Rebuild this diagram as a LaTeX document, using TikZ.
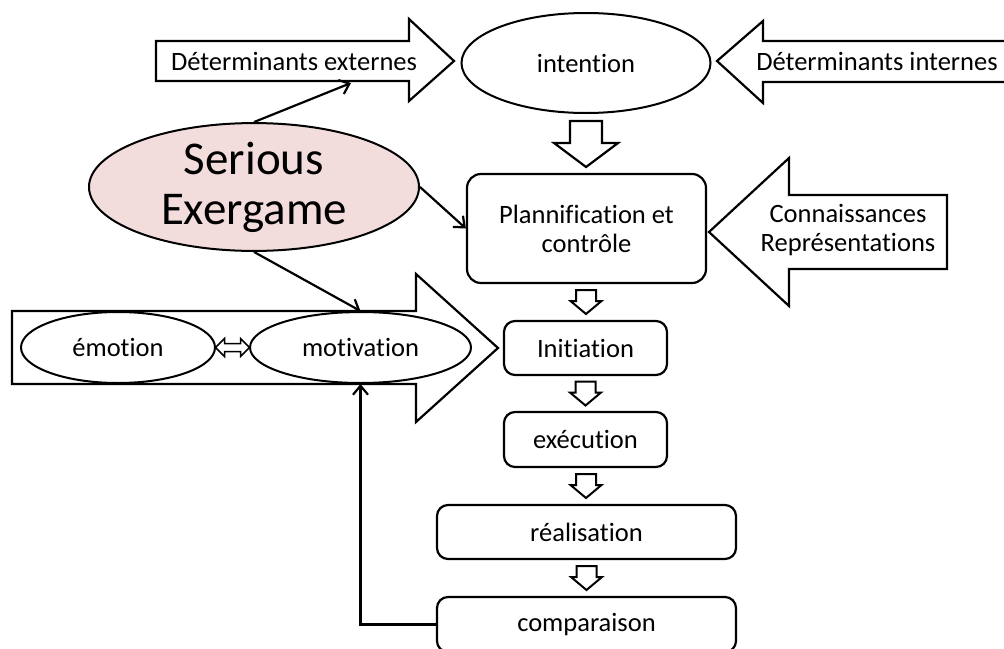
\documentclass[tikz,border=0pt]{standalone}
\usepackage{fontspec}
\setmainfont{Carlito}[Ligatures={NoCommon}]
\usetikzlibrary{arrows.meta,shapes.geometric,calc}
\definecolor{sepink}{RGB}{243,221,220}
\begin{document}
\begin{tikzpicture}[x=1pt,y=-1pt,
  outl/.style={line width=2.2pt, line join=miter},
  blockarrow/.style={outl, fill=white},
  ellnode/.style={ellipse, draw, line width=2pt, fill=white, inner sep=0pt, font=\fontsize{26.5}{29}\selectfont},
  boxnode/.style={draw, line width=2.2pt, rounded corners=11pt, fill=white, inner sep=0pt, font=\fontsize{26.5}{29}\selectfont, align=center},
  lbl/.style={font=\fontsize{26.5}{29}\selectfont, inner sep=0pt, align=center},
  conn/.style={line width=2.2pt, -{Straight Barb[length=9pt,width=15pt,line width=2.2pt]}},
  smalldown/.pic={\draw[blockarrow, line width=2pt] (-10,-12) -- (10,-12) -- (10,-1) -- (15.5,-1) -- (0,12) -- (-15.5,-1) -- (-10,-1) -- cycle;}
]
\useasboundingbox (0,0) rectangle (1004,648);

% ---- block arrows ----
\draw[blockarrow] (156,41) -- (409,41) -- (409,19) -- (454,61) -- (409,101) -- (409,81) -- (156,81) -- cycle;
\node[lbl] (dext) at (294,61) {Déterminants externes};

\draw[blockarrow] (1012,41) -- (763,41) -- (763,21) -- (717,61) -- (763,103) -- (763,82) -- (1012,82);
\node[lbl] (dint) at (877,61) {Déterminants internes};

\draw[blockarrow] (947,195) -- (789,195) -- (789,158) -- (709,232) -- (789,306) -- (789,269) -- (947,269) -- cycle;
\node[lbl] (knowl) at (848,230) {Connaissances\\Représentations};

\draw[blockarrow] (12,311) -- (416,311) -- (416,274) -- (498,348) -- (416,422) -- (416,384) -- (12,384) -- cycle;

% ---- nodes ----
\node[ellnode, minimum width=249pt, minimum height=100pt] (intent) at (586,63) {intention};
\node[ellnode, minimum width=194pt, minimum height=71pt] (emot) at (118,347.5) {émotion};
\node[ellnode, minimum width=221pt, minimum height=71pt] (motiv) at (360.5,347.5) {motivation};

\node[ellipse, draw, line width=2pt, fill=sepink, inner sep=0pt, align=center,
      minimum width=330pt, minimum height=114pt, font=\fontsize{47}{50}\selectfont] (se) at (254,187) {Serious\\Exergame};

\node[boxnode, rounded corners=14pt, minimum width=239pt, minimum height=109pt] (plan) at (586.5,228.5) {Plannification et\\contrôle};
\node[boxnode, minimum width=163pt, minimum height=54pt] (init) at (585.5,348) {Initiation};
\node[boxnode, minimum width=163pt, minimum height=55pt] (exec) at (585.5,439.5) {exécution};
\node[boxnode, minimum width=299pt, minimum height=54pt] (real) at (586.5,532) {réalisation};
\node[boxnode, minimum width=299pt, minimum height=55pt] (comp) at (586.5,624.5) {comparaison};

% ---- down block arrows ----
\draw[blockarrow] (570,121) -- (602,121) -- (602,143) -- (618,143) -- (586,167) -- (554,143) -- (570,143) -- cycle;
\pic at ($(plan.south)!0.5!(init.north)$) {smalldown};
\pic at ($(init.south)!0.5!(exec.north)$) {smalldown};
\pic at ($(exec.south)!0.5!(real.north)$) {smalldown};
\pic at ($(real.south)!0.5!(comp.north)$) {smalldown};

% ---- double arrow emotion <-> motivation ----
\coordinate (dm) at ($(emot.east)!0.5!(motiv.west)$);
\draw[line width=1.5pt, fill=white] ($(dm)+(-17,0)$) -- ++(9,-9) -- ++(0,5) -- ++(16,0) -- ++(0,-5) -- ++(9,9) -- ++(-9,9) -- ++(0,-5) -- ++(-16,0) -- ++(0,5) -- cycle;

% ---- connectors ----
\coordinate (dextfoot) at (351,83);
\draw[conn] (se.north) -- (dextfoot);
\draw[conn] (se.east) -- (plan.west);
\draw[conn] (se.south) -- (motiv.north);
\draw[conn] (comp.west) -| (motiv.south);
\end{tikzpicture}
\end{document}
